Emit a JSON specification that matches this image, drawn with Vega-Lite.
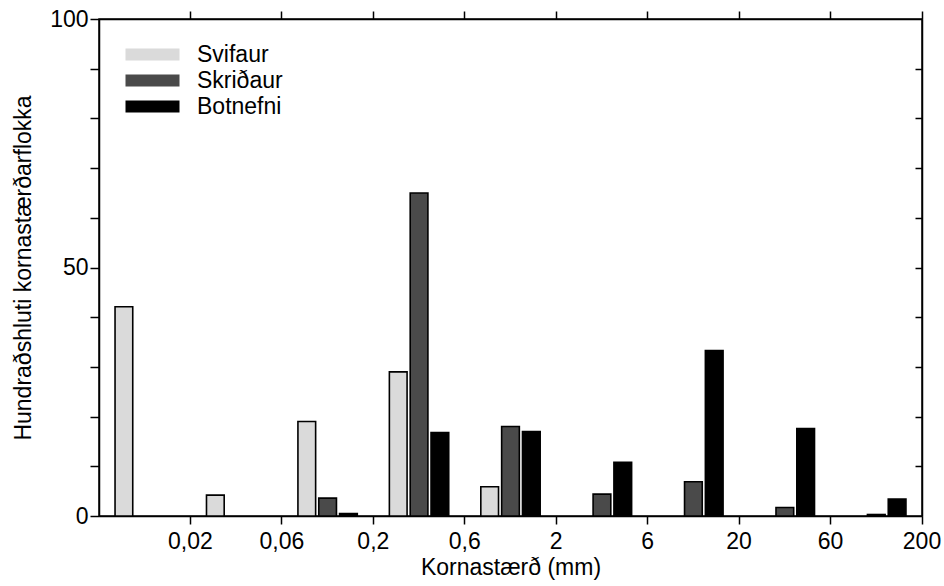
{
  "$schema": "https://vega.github.io/schema/vega-lite/v6.json",
  "width": 823,
  "height": 497,
  "autosize": {"type": "none"},
  "padding": {"left": 99, "top": 19, "right": 22, "bottom": 70},
  "config": {
    "font": "Liberation Sans",
    "view": {"stroke": "black", "strokeWidth": 1.5},
    "axis": {
      "domainColor": "black",
      "domainWidth": 1.5,
      "tickColor": "black",
      "tickWidth": 1.5,
      "labelColor": "black",
      "labelFontSize": 23,
      "titleColor": "black",
      "titleFontSize": 23,
      "titleFontWeight": "normal",
      "grid": false
    }
  },
  "data": {
    "values": [
      {"size": "0,02", "type": "Svifaur", "pct": 42.1},
      {"size": "0,06", "type": "Svifaur", "pct": 4.2},
      {"size": "0,2", "type": "Svifaur", "pct": 19.0},
      {"size": "0,2", "type": "Skriðaur", "pct": 3.6},
      {"size": "0,2", "type": "Botnefni", "pct": 0.5},
      {"size": "0,6", "type": "Svifaur", "pct": 29.0},
      {"size": "0,6", "type": "Skriðaur", "pct": 65.0},
      {"size": "0,6", "type": "Botnefni", "pct": 16.8},
      {"size": "2", "type": "Svifaur", "pct": 5.9},
      {"size": "2", "type": "Skriðaur", "pct": 18.0},
      {"size": "2", "type": "Botnefni", "pct": 17.0},
      {"size": "6", "type": "Skriðaur", "pct": 4.4},
      {"size": "6", "type": "Botnefni", "pct": 10.8},
      {"size": "20", "type": "Skriðaur", "pct": 6.9},
      {"size": "20", "type": "Botnefni", "pct": 33.3},
      {"size": "60", "type": "Skriðaur", "pct": 1.7},
      {"size": "60", "type": "Botnefni", "pct": 17.6},
      {"size": "200", "type": "Skriðaur", "pct": 0.3},
      {"size": "200", "type": "Botnefni", "pct": 3.4}
    ]
  },
  "layer": [
    {
      "mark": {"type": "bar", "stroke": "black", "strokeWidth": 1.6},
      "encoding": {
        "x": {
          "field": "size",
          "type": "nominal",
          "scale": {
            "domain": ["0,02", "0,06", "0,2", "0,6", "2", "6", "20", "60", "200"],
            "paddingInner": 0,
            "paddingOuter": 0
          },
          "axis": {
            "orient": "bottom",
            "bandPosition": 1,
            "labelOffset": 45.72,
            "labelAngle": 0,
            "tickSize": 8,
            "labelPadding": 6,
            "title": "Kornastærð (mm)",
            "titlePadding": 3
          }
        },
        "xOffset": {
          "field": "type",
          "type": "nominal",
          "scale": {
            "domain": ["Svifaur", "Skriðaur", "Botnefni"],
            "paddingInner": 0.15,
            "paddingOuter": 0.77
          }
        },
        "y": {
          "field": "pct",
          "type": "quantitative",
          "scale": {"domain": [0, 100]},
          "axis": {
            "orient": "left",
            "values": [0, 10, 20, 30, 40, 50, 60, 70, 80, 90, 100],
            "labelExpr": "datum.value % 50 === 0 ? datum.label : ''",
            "tickSize": 9,
            "labelPadding": 2,
            "title": "Hundraðshluti kornastærðarflokka",
            "titlePadding": 14
          }
        },
        "color": {
          "field": "type",
          "type": "nominal",
          "scale": {
            "domain": ["Svifaur", "Skriðaur", "Botnefni"],
            "range": ["#dadada", "#4a4a4a", "#000000"]
          },
          "legend": {
            "title": null,
            "orient": "none",
            "legendX": 42,
            "legendY": 24,
            "padding": 0,
            "symbolType": "M-4.5,-1H4.5V1H-4.5Z",
            "symbolSize": 144,
            "symbolStrokeWidth": 0,
            "symbolOpacity": 1,
            "labelOffset": 33,
            "labelFontSize": 23,
            "labelColor": "black",
            "rowPadding": 2
          }
        }
      }
    },
    {
      "mark": {"type": "bar", "opacity": 0},
      "encoding": {
        "x": {
          "field": "size",
          "type": "nominal",
          "axis": {
            "orient": "top",
            "bandPosition": 1,
            "labels": false,
            "tickSize": 8,
            "title": null
          }
        },
        "y": {
          "field": "pct",
          "type": "quantitative",
          "axis": {
            "orient": "right",
            "values": [10, 20, 30, 40, 50, 60, 70, 80, 90],
            "labels": false,
            "tickSize": -7,
            "title": null
          }
        }
      }
    }
  ]
}
